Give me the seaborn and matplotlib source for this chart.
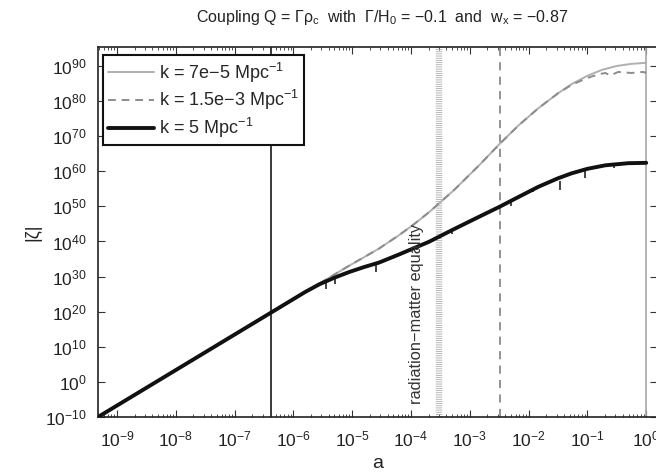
import numpy as np
import pandas as pd
import matplotlib
matplotlib.use("Agg")
import matplotlib.pyplot as plt
import matplotlib.ticker as mticker
import matplotlib.transforms as mtransforms
import seaborn as sns

# ---- data (log10 values) ----
series_labels = ["k = 7e\u22125 Mpc$^{\\mathregular{\u22121}}$",
                 "k = 1.5e\u22123 Mpc$^{\\mathregular{\u22121}}$",
                 "k = 5 Mpc$^{\\mathregular{\u22121}}$"]

log10_a_k1 = [-9.322, -5.8, -5.559, -5.3, -5.051, -4.8, -4.542, -4.203, -3.95, -3.695,
              -3.271, -2.847, -2.492, -2.169, -1.831, -1.5, -1.271, -1.0, -0.75,
              -0.5, -0.25, 0.0]
log10_z_k1 = [-10.0, 25.6, 28.0, 30.6, 33.1, 35.5, 38.0, 41.8, 44.9, 48.3,
              54.6, 61.6, 67.8, 73.1, 78.0, 82.2, 84.8, 87.2, 88.9,
              90.0, 90.6, 90.9]

log10_a_k2 = [-9.322, -5.8, -5.559, -5.3, -5.051, -4.8, -4.542, -4.203, -3.95, -3.695,
              -3.271, -2.847, -2.492, -2.169, -1.831, -1.5, -1.271, -1.0, -0.814,
              -0.695, -0.610, -0.475, -0.254, -0.051, 0.0]
log10_z_k2 = [-10.0, 25.6, 28.0, 30.6, 33.1, 35.5, 38.0, 41.8, 44.9, 48.3,
              54.6, 61.6, 67.8, 73.1, 78.0, 82.2, 84.6, 86.6, 87.6,
              88.0, 87.3, 88.3, 88.0, 88.3, 88.0]

log10_a_k3 = [-9.322, -5.8, -5.559, -5.3, -5.051, -4.8, -4.542, -4.203, -3.695, -3.271,
              -2.847, -2.492, -2.169, -1.831, -1.5, -1.271, -1.0, -0.695, -0.305, 0.0]
log10_z_k3 = [-10.0, 25.6, 27.8, 29.7, 31.3, 32.7, 34.0, 36.3, 39.9, 43.5,
              47.0, 49.9, 52.7, 55.6, 58.0, 59.4, 60.7, 61.7, 62.3, 62.4]

# downward spikes of the k = 5 curve (position, bottom, top)
log10_a_dips = [-5.45, -5.30, -4.593, -3.90, -3.30, -2.305, -1.92, -1.458, -1.034, -0.55]
log10_z_dip_lo = [26.4, 27.8, 31.3, 37.5, 42.0, 50.0, 54.0, 54.8, 58.2, 60.8]
log10_z_dip_hi = [28.2, 29.5, 33.6, 38.7, 43.0, 51.5, 55.0, 57.2, 60.4, 61.9]

# reference scale factors (vertical lines)
a_vlines = [4.24e-7, 2.99e-4, 3.22e-3, 1.0]
equality_label = "radiation\u2212matter equality"

x_ticks = [1e-9, 1e-8, 1e-7, 1e-6, 1e-5, 1e-4, 1e-3, 1e-2, 1e-1, 1e0]
y_ticks = [1e-10, 1e0, 1e10, 1e20, 1e30, 1e40, 1e50, 1e60, 1e70, 1e80, 1e90]

# ---- style ----
sns.set_style("ticks")
plt.rcParams["font.family"] = ["Liberation Sans", "DejaVu Sans"]
plt.rcParams["mathtext.fontset"] = "custom"
plt.rcParams["mathtext.rm"] = "Liberation Sans"
plt.rcParams["mathtext.it"] = "Liberation Sans:italic"
plt.rcParams["mathtext.bf"] = "Liberation Sans:bold"
plt.rcParams["mathtext.default"] = "regular"

fig = plt.figure(figsize=(6.56, 4.73), dpi=100)
ax = fig.add_axes([98 / 656, (473 - 417) / 473, (656.5 - 98) / 656, (417 - 47) / 473])
ax.set_xscale("log")
ax.set_yscale("log")

# vertical reference lines
ax.axvline(a_vlines[0], color="#3a3a3a", lw=1.4, zorder=1)
ax.axvline(a_vlines[1], color="#a5a5a5", lw=4.6, linestyle=(0, (0.12, 0.22)), zorder=1)
ax.axvline(a_vlines[2], color="#8a8a8a", lw=1.3, linestyle=(0, (4.5, 3.5)), zorder=1)
ax.axvline(a_vlines[3], color="#a8a8a8", lw=1.2, zorder=1)

df1 = pd.DataFrame({"a": 10.0 ** np.array(log10_a_k1), "z": 10.0 ** np.array(log10_z_k1)})
df2 = pd.DataFrame({"a": 10.0 ** np.array(log10_a_k2), "z": 10.0 ** np.array(log10_z_k2)})
df3 = pd.DataFrame({"a": 10.0 ** np.array(log10_a_k3), "z": 10.0 ** np.array(log10_z_k3)})

sns.lineplot(data=df1, x="a", y="z", ax=ax, color="#b0b0b0", lw=1.4,
             estimator=None, sort=False, label=series_labels[0], zorder=3)
sns.lineplot(data=df2, x="a", y="z", ax=ax, color="#8c8c8c", lw=1.4,
             linestyle=(0, (4.0, 3.0)), estimator=None, sort=False,
             label=series_labels[1], zorder=3)
sns.lineplot(data=df3, x="a", y="z", ax=ax, color="#111111", lw=2.8,
             estimator=None, sort=False, label=series_labels[2], zorder=4)
ax.vlines(10.0 ** np.array(log10_a_dips), 10.0 ** np.array(log10_z_dip_lo),
          10.0 ** np.array(log10_z_dip_hi), color="#111111", lw=1.1, zorder=4)

# limits & ticks
ax.set_xlim(10 ** -9.322, 10 ** 0.175)
ax.set_ylim(1e-10, 10 ** 95.4)
ax.xaxis.set_major_locator(mticker.FixedLocator(x_ticks))
ax.xaxis.set_minor_locator(mticker.LogLocator(base=10, subs=np.arange(2, 10), numticks=100))
ax.xaxis.set_minor_formatter(mticker.NullFormatter())
ax.yaxis.set_major_locator(mticker.FixedLocator(y_ticks))
ax.yaxis.set_minor_locator(mticker.NullLocator())
ax.xaxis.set_major_formatter(mticker.LogFormatterSciNotation(base=10, labelOnlyBase=False))
ax.yaxis.set_major_formatter(mticker.LogFormatterSciNotation(base=10, labelOnlyBase=False))
ax.tick_params(which="both", direction="in", top=True, right=True,
               color="#333333", labelcolor="#222222", labelsize=12.5)
ax.tick_params(which="major", length=5, width=0.8)
ax.tick_params(which="minor", length=2.5, width=0.6)
ax.tick_params(axis="x", which="major", pad=9)
ax.tick_params(axis="y", which="major", pad=8)
for sp in ax.spines.values():
    sp.set_color("#222222")
    sp.set_linewidth(1.2)

ax.set_xlabel("a", fontsize=14, labelpad=4, color="#222222")
ax.set_ylabel("|\u03b6|", fontsize=13, labelpad=3, color="#222222")
fig.text(0.582, 0.962,
         "Coupling Q = \u0393\u03c1$_\\mathregular{c}$  with  \u0393/H$_\\mathregular{0}$ = \u22120.1  and  w$_\\mathregular{x}$ = \u22120.87",
         ha="center", va="center", fontsize=11.5, color="#222222")

# annotation for equality line
trans = mtransforms.blended_transform_factory(ax.transData, ax.transAxes)
ax.text(1.26e-4, 0.278, equality_label, rotation=90, ha="center", va="center",
        fontsize=11.8, color="#333333", transform=trans, zorder=5)

leg = ax.legend(loc="upper left", bbox_to_anchor=(0.009, 0.978), borderaxespad=0,
                fontsize=13, frameon=True, fancybox=False, framealpha=1,
                handlelength=2.5, handletextpad=0.3, borderpad=0.3, labelspacing=0.2)
leg.get_frame().set_edgecolor("#111111")
leg.get_frame().set_linewidth(1.5)
leg.set_zorder(10)

fig.savefig("out.png", dpi=100)
